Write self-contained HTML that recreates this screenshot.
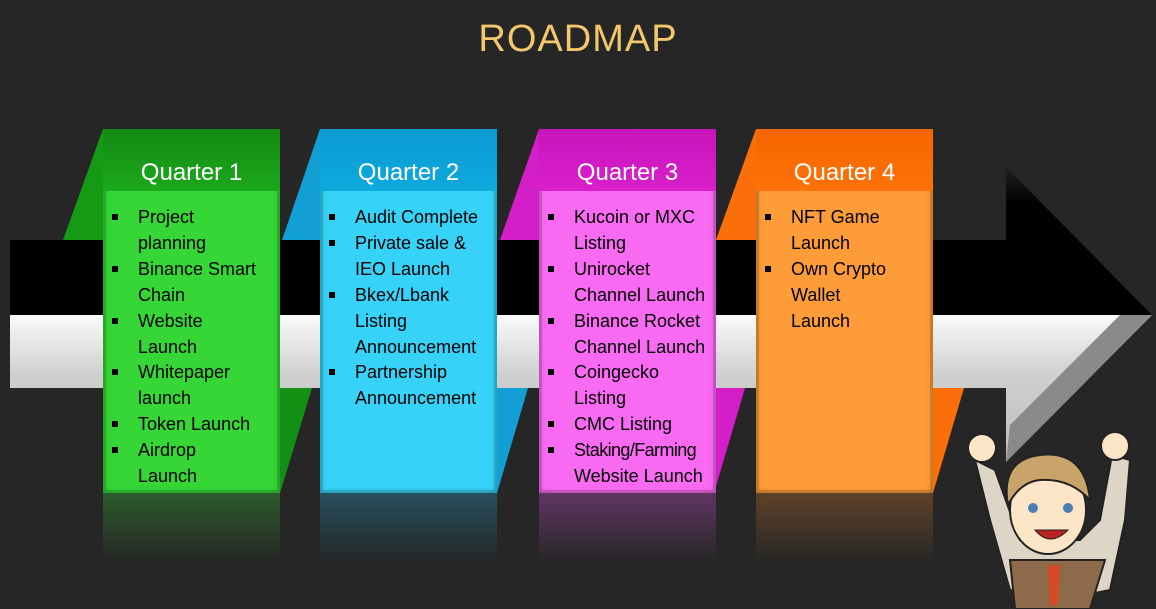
<!DOCTYPE html>
<html><head><meta charset="utf-8"><style>
body{margin:0;width:1156px;height:609px;background:#262626;overflow:hidden;position:relative;font-family:"Liberation Sans",sans-serif}
.t{position:absolute;left:0;width:1156px;top:18px;text-align:center;color:#f3c76b;font-size:38px;letter-spacing:1px}
.box{position:absolute;top:129px;width:177px;height:364px;box-shadow:inset 0 0 0 3px rgba(0,0,0,.15),inset 0 0 8px rgba(0,0,0,.2)}
.hd{height:62px;text-align:center;color:#fff;font-size:24px;line-height:88px;}
ul{list-style:none;margin:0;padding:0;position:absolute;top:76px;left:0;right:0}
li{position:relative;padding-left:35px;font-size:18px;line-height:25.9px;color:#000;white-space:nowrap}
li:before{content:"";position:absolute;left:9px;top:9px;width:6px;height:6px;background:#000}
.refl{position:absolute;top:493px;width:177px;height:70px}
</style></head><body>
<div class="t">ROADMAP</div>
<svg width="1156" height="609" style="position:absolute;left:0;top:0">
<defs>
<linearGradient id="blk" x1="0" y1="0" x2="0" y2="1"><stop offset="0" stop-color="#222"/><stop offset=".25" stop-color="#000"/><stop offset="1" stop-color="#000"/></linearGradient>
<linearGradient id="sil" x1="0" y1="0" x2="0" y2="1"><stop offset="0" stop-color="#fafafa"/><stop offset=".4" stop-color="#d0d0d0"/><stop offset="1" stop-color="#bdbdbd"/></linearGradient>
</defs>
<polygon points="10,240 1006,240 1006,167 1152,315 10,315" fill="url(#blk)"/>
<polygon points="10,315 1152,315 1006,462 1006,388 10,388" fill="url(#sil)"/>
<polygon points="1006,462 1152,315 1120,315 1010,425" fill="#8a8a8a"/>
<polygon points="103,129 103,240 63,240" fill="#159a15"/>
<polygon points="280,388 312,388 280,493" fill="#139013"/>
<polygon points="320,129 320,240 282,240" fill="#119fd4"/>
<polygon points="497,388 528,388 497,493" fill="#119fd4"/>
<polygon points="539,129 539,240 500,240" fill="#d41ec8"/>
<polygon points="714,388 745,388 714,493" fill="#d41ec8"/>
<polygon points="756,129 756,240 716,240" fill="#fb6f0a"/>
<polygon points="933,388 964,388 933,493" fill="#fb6f0a"/>
<g>
<path d="M975,460 L990,520 L1010,590 L1060,600 L1110,590 L1125,520 L1130,460 L1112,455 L1100,520 L1080,540 L1020,540 L995,470 Z" fill="#ddd6c6" stroke="#222" stroke-width="2"/>
<circle cx="982" cy="448" r="14" fill="#fde6c8" stroke="#222" stroke-width="2"/>
<circle cx="1115" cy="446" r="14" fill="#fde6c8" stroke="#222" stroke-width="2"/>
<path d="M1010,560 L1105,560 L1090,609 L1015,609 Z" fill="#8c6a4a" stroke="#222" stroke-width="2"/>
<polygon points="1048,565 1060,565 1058,605 1050,605" fill="#d84a24"/>
<ellipse cx="1048" cy="510" rx="38" ry="44" fill="#fde6c8" stroke="#222" stroke-width="2"/>
<path d="M1008,505 Q1000,460 1040,455 Q1085,450 1090,500 Q1070,478 1040,480 Q1020,482 1008,505Z" fill="#c9a46a" stroke="#222" stroke-width="2"/>
<circle cx="1033" cy="508" r="5" fill="#4a7fb0"/><circle cx="1068" cy="508" r="5" fill="#4a7fb0"/>
<path d="M1035,530 Q1050,548 1068,530 Z" fill="#b22" stroke="#222"/>
</g>
</svg>
<div class="refl" style="left:103px;background:linear-gradient(#2c5a2c,#262626)"></div>
<div class="refl" style="left:320px;background:linear-gradient(#27505f,#262626)"></div>
<div class="refl" style="left:539px;background:linear-gradient(#603563,#262626)"></div>
<div class="refl" style="left:756px;background:linear-gradient(#5e4228,#262626)"></div>

<div class="box" style="left:103px;background:#35d635"><div class="hd" style="background:linear-gradient(#138a13,#1ca81c)">Quarter 1</div>
<ul><li>Project<br>planning</li><li>Binance Smart<br>Chain</li><li>Website<br>Launch</li><li>Whitepaper<br>launch</li><li>Token Launch</li><li>Airdrop<br>Launch</li></ul></div>
<div class="box" style="left:320px;background:#36d2f7"><div class="hd" style="background:linear-gradient(#0b9bd2,#0ea9dd)">Quarter 2</div>
<ul><li>Audit Complete</li><li>Private sale &amp;<br>IEO Launch</li><li>Bkex/Lbank<br>Listing<br>Announcement</li><li>Partnership<br>Announcement</li></ul></div>
<div class="box" style="left:539px;background:#f96af3"><div class="hd" style="background:linear-gradient(#c814bb,#d820cb)">Quarter 3</div>
<ul><li>Kucoin or MXC<br>Listing</li><li>Unirocket<br>Channel Launch</li><li>Binance Rocket<br>Channel Launch</li><li>Coingecko<br>Listing</li><li>CMC Listing</li><li><span style="letter-spacing:-0.6px">Staking/Farming</span><br>Website Launch</li></ul></div>
<div class="box" style="left:756px;background:#fd9c38"><div class="hd" style="background:linear-gradient(#f76500,#fd7208)">Quarter 4</div>
<ul><li>NFT Game<br>Launch</li><li>Own Crypto<br>Wallet<br>Launch</li></ul></div>
</body></html>
